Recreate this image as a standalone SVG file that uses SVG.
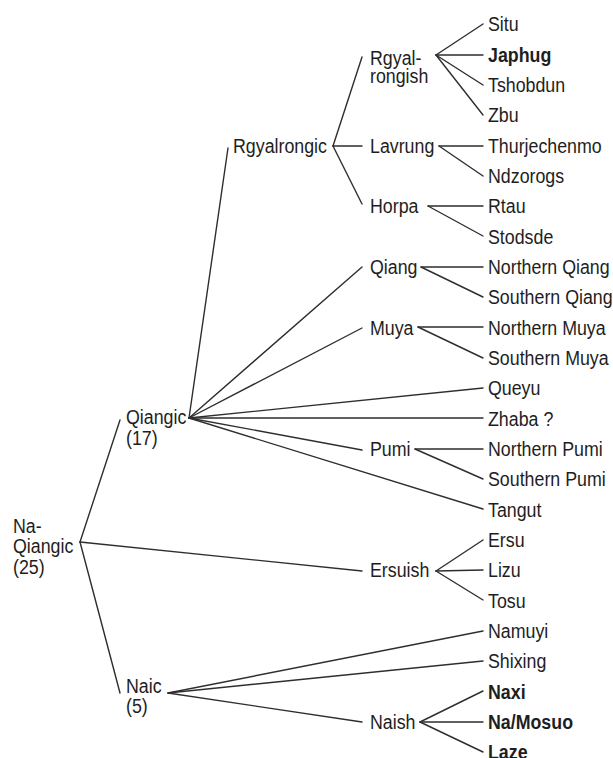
<svg xmlns="http://www.w3.org/2000/svg" width="613" height="758" viewBox="0 0 613 758">
<style>
text{font-family:"Liberation Sans",Arial,sans-serif;font-size:20px;fill:#1e1e1e;transform-box:fill-box;transform-origin:0 50%;transform:scaleX(0.89)}
.b{font-weight:bold}
#connectors line{stroke:#2e2e2e;stroke-width:1.4;fill:none;stroke-linecap:round}
</style>
<rect width="613" height="758" fill="#fff"/>
<g id="connectors">
<line x1="80" y1="542" x2="120" y2="420"/>
<line x1="80" y1="542" x2="362" y2="571"/>
<line x1="80" y1="542" x2="120" y2="693"/>
<line x1="189" y1="418" x2="228" y2="148"/>
<line x1="189" y1="418" x2="362" y2="267"/>
<line x1="189" y1="418" x2="362" y2="328"/>
<line x1="189" y1="418" x2="483" y2="388"/>
<line x1="189" y1="418" x2="483" y2="418"/>
<line x1="189" y1="418" x2="362" y2="450"/>
<line x1="189" y1="418" x2="483" y2="509"/>
<line x1="333" y1="146" x2="362" y2="57"/>
<line x1="333" y1="146" x2="362" y2="146"/>
<line x1="333" y1="146" x2="362" y2="204"/>
<line x1="436" y1="55" x2="483" y2="24"/>
<line x1="436" y1="55" x2="483" y2="55"/>
<line x1="436" y1="55" x2="483" y2="85"/>
<line x1="436" y1="55" x2="483" y2="115"/>
<line x1="439" y1="146" x2="483" y2="146"/>
<line x1="439" y1="146" x2="483" y2="176"/>
<line x1="428" y1="206" x2="483" y2="206"/>
<line x1="428" y1="206" x2="483" y2="236"/>
<line x1="421" y1="267" x2="483" y2="267"/>
<line x1="421" y1="267" x2="483" y2="297"/>
<line x1="418" y1="327" x2="483" y2="327"/>
<line x1="418" y1="327" x2="483" y2="358"/>
<line x1="415" y1="449" x2="483" y2="449"/>
<line x1="415" y1="449" x2="483" y2="479"/>
<line x1="436" y1="571" x2="483" y2="540"/>
<line x1="436" y1="571" x2="483" y2="570"/>
<line x1="436" y1="571" x2="483" y2="600"/>
<line x1="168" y1="693" x2="483" y2="631"/>
<line x1="168" y1="693" x2="483" y2="661"/>
<line x1="168" y1="693" x2="362" y2="722"/>
<line x1="420" y1="722" x2="483" y2="691"/>
<line x1="420" y1="722" x2="483" y2="722"/>
<line x1="420" y1="722" x2="483" y2="752"/>
</g>
<g id="na-qiangic"><text x="13" y="533">Na-</text><text x="13" y="553.5">Qiangic</text><text x="13" y="574">(25)</text></g>
<g id="qiangic"><text x="126" y="424">Qiangic</text><text x="126" y="445">(17)</text></g>
<g id="naic"><text x="126" y="693">Naic</text><text x="126" y="713.5">(5)</text></g>
<g id="rgyalrongic"><text x="233" y="153">Rgyalrongic</text></g>
<g id="rgyalrongish"><text x="370" y="65.5">Rgyal-</text><text x="370" y="83.5">rongish</text></g>
<g id="lavrung"><text x="370" y="153">Lavrung</text></g>
<g id="horpa"><text x="370" y="213">Horpa</text></g>
<g id="qiang"><text x="370" y="274">Qiang</text></g>
<g id="muya"><text x="370" y="335">Muya</text></g>
<g id="pumi"><text x="370" y="456">Pumi</text></g>
<g id="ersuish"><text x="370" y="577.5">Ersuish</text></g>
<g id="naish"><text x="370" y="729.5">Naish</text></g>
<g id="situ"><text x="488" y="31.5">Situ</text></g>
<g id="japhug"><text class="b" x="488" y="61.8">Japhug</text></g>
<g id="tshobdun"><text x="488" y="92.2">Tshobdun</text></g>
<g id="zbu"><text x="488" y="122.5">Zbu</text></g>
<g id="thurjechenmo"><text x="488" y="152.8">Thurjechenmo</text></g>
<g id="ndzorogs"><text x="488" y="183.2">Ndzorogs</text></g>
<g id="rtau"><text x="488" y="213.5">Rtau</text></g>
<g id="stodsde"><text x="488" y="243.8">Stodsde</text></g>
<g id="northern-qiang"><text x="488" y="274.2">Northern Qiang</text></g>
<g id="southern-qiang"><text x="488" y="304.5">Southern Qiang</text></g>
<g id="northern-muya"><text x="488" y="334.8">Northern Muya</text></g>
<g id="southern-muya"><text x="488" y="365.1">Southern Muya</text></g>
<g id="queyu"><text x="488" y="395.5">Queyu</text></g>
<g id="zhaba"><text x="488" y="425.8">Zhaba ?</text></g>
<g id="northern-pumi"><text x="488" y="456.1">Northern Pumi</text></g>
<g id="southern-pumi"><text x="488" y="486.5">Southern Pumi</text></g>
<g id="tangut"><text x="488" y="516.8">Tangut</text></g>
<g id="ersu"><text x="488" y="547.1">Ersu</text></g>
<g id="lizu"><text x="488" y="577.5">Lizu</text></g>
<g id="tosu"><text x="488" y="607.8">Tosu</text></g>
<g id="namuyi"><text x="488" y="638.1">Namuyi</text></g>
<g id="shixing"><text x="488" y="668.5">Shixing</text></g>
<g id="naxi"><text class="b" x="488" y="698.8">Naxi</text></g>
<g id="na-mosuo"><text class="b" x="488" y="729.1">Na/Mosuo</text></g>
<g id="laze"><text class="b" x="488" y="759">Laze</text></g>
</svg>
